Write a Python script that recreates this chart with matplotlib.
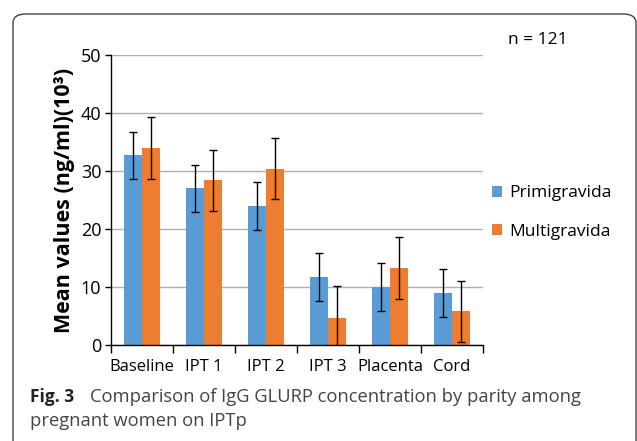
import matplotlib.pyplot as plt
import numpy as np
from matplotlib.patches import FancyBboxPatch

categories = ["Baseline", "IPT 1", "IPT 2", "IPT 3", "Placenta", "Cord"]
primigravida = [32.7, 27.0, 24.0, 11.7, 10.0, 9.0]
primigravida_err = [4.1, 4.1, 4.1, 4.1, 4.1, 4.1]
multigravida = [34.0, 28.4, 30.4, 4.7, 13.3, 5.8]
multigravida_err = [5.3, 5.3, 5.3, 5.4, 5.3, 5.3]
yticks = [0, 10, 20, 30, 40, 50]

plt.rcParams['font.family'] = ['Open Sans', 'DejaVu Sans']

fig = plt.figure(figsize=(6.37, 4.41), dpi=100)

# rounded frame around the figure panel
frame = FancyBboxPatch((13 / 637, -0.1), 623 / 637, 1.1 - 14 / 441,
                       boxstyle="round,pad=0,rounding_size=0.02",
                       transform=fig.transFigure, fill=False,
                       edgecolor="#444444", linewidth=1.0)
fig.patches.append(frame)

ax = fig.add_axes([111 / 637, 1 - 345 / 441, (483 - 111) / 637, (345 - 55) / 441])

x = np.arange(len(categories))
w = 0.29
ekw = dict(elinewidth=1.0, capthick=1.0, ecolor="black")
ax.bar(x - w / 2, primigravida, w, color="#5B9BD5", label="Primigravida",
       yerr=primigravida_err, capsize=3, error_kw=ekw, zorder=3)
ax.bar(x + w / 2, multigravida, w, color="#ED7D31", label="Multigravida",
       yerr=multigravida_err, capsize=3, error_kw=ekw, zorder=3)

ax.set_xlim(-0.5, len(categories) - 0.5)
ax.set_ylim(0, 50)
ax.set_yticks(yticks)
ax.tick_params(axis="y", labelsize=13, length=4, width=1, pad=3)
ax.yaxis.grid(True, color="#b0b0b0", linewidth=1.0, zorder=0)

ax.set_xticks(x)
ax.set_xticklabels(categories, fontsize=12)
ax.tick_params(axis="x", length=0, pad=10)
ax.set_xticks(np.arange(len(categories) + 1) - 0.5, minor=True)
ax.tick_params(axis="x", which="minor", length=6, width=1)

for s in ["top", "right"]:
    ax.spines[s].set_visible(False)
ax.spines["left"].set_linewidth(1)
ax.spines["bottom"].set_linewidth(1)
ax.spines["bottom"].set_zorder(4)

ax.set_ylabel("Mean values (ng/ml)(10³)", fontsize=15.5, fontweight="bold", labelpad=4)

ax.legend(loc="upper left", bbox_to_anchor=(1.0, 0.58), frameon=False,
          fontsize=12.5, handlelength=0.6, handleheight=0.6, handletextpad=0.4,
          labelspacing=1.3, borderaxespad=0.1)

fig.text(508 / 637, 1 - 40 / 441, "n = 121", fontsize=12.5, va="center")

fig.text(30 / 637, 1 - 397 / 441, "Fig. 3", fontsize=12.5, fontweight="bold",
         va="center", color="#222222")
fig.text(90 / 637, 1 - 397 / 441,
         "Comparison of IgG GLURP concentration by parity among",
         fontsize=13.2, va="center", color="#444444")
fig.text(30 / 637, 1 - 421 / 441, "pregnant women on IPTp",
         fontsize=13.2, va="center", color="#444444")

plt.savefig("out.png", dpi=100)
